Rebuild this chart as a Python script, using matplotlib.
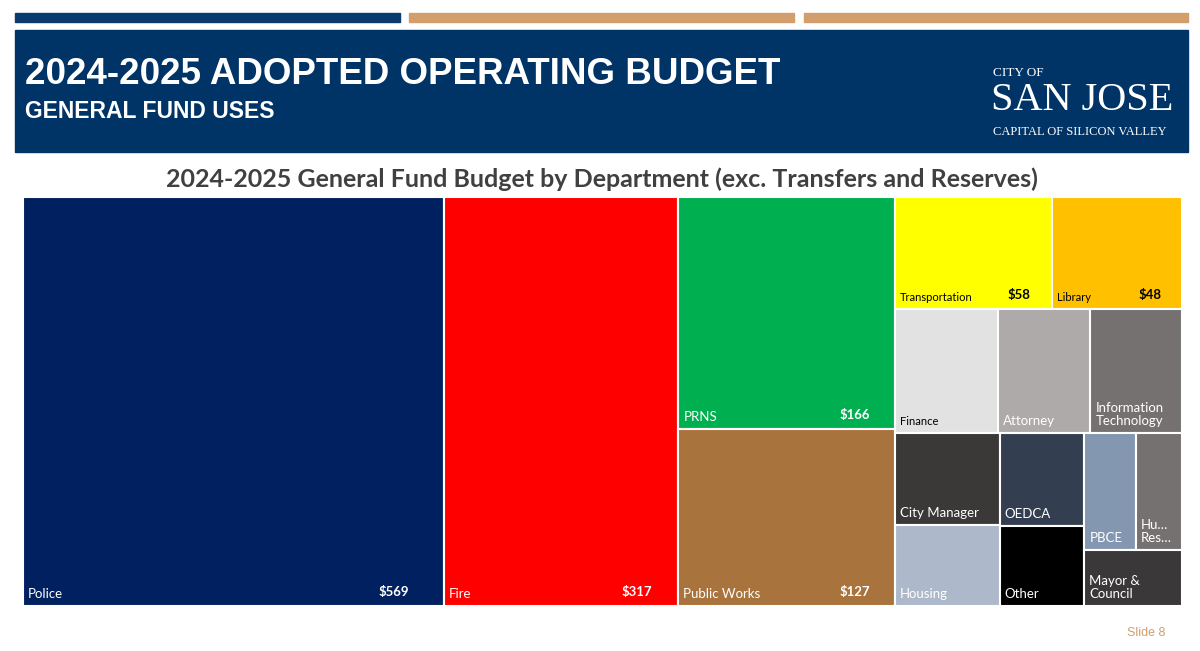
import matplotlib
matplotlib.use("Agg")
import matplotlib.pyplot as plt
from matplotlib.patches import Rectangle

departments = ["Police", "Fire", "PRNS", "Public Works", "Transportation", "Library",
               "Finance", "Attorney", "Information\nTechnology", "City Manager", "Housing",
               "OEDCA", "Other", "PBCE", "Hu…\nRes…", "Mayor &\nCouncil"]
values = [569, 317, 166, 127, 58, 48, 42, 38, 37.5, 32, 28, 26, 22.5, 20, 18, 18]
value_labels = ["$569", "$317", "$166", "$127", "$58", "$48"] + [""] * 10
colors = ["#002060", "#FF0000", "#00B050", "#A9733D", "#FFFF00", "#FFC000",
          "#E2E2E2", "#AEAAAA", "#757171", "#3B3838", "#ADB9CA",
          "#333F50", "#000000", "#8497B0", "#767171", "#3A3838"]
dark_text = {"Transportation", "Library", "Finance"}

W, H = 1159.0, 409.0

def squarify(vals, x, y, w, h):
    total = sum(vals)
    scale = w * h / total
    areas = [v * scale for v in vals]
    rects = []
    def worst(row, side):
        s = sum(row)
        return max(max(side * side * r / (s * s), (s * s) / (side * side * r)) for r in row)
    i = 0
    while i < len(areas):
        side = min(w, h)
        row = [areas[i]]
        j = i + 1
        if len(areas) - i == 3:
            row.append(areas[j]); j += 1
        while j < len(areas) and worst(row + [areas[j]], side) <= worst(row, side):
            row.append(areas[j]); j += 1
        s = sum(row)
        if w >= h:
            cw = s / h; cy = y
            for a in row:
                rh = a / cw; rects.append((x, cy, cw, rh)); cy += rh
            x += cw; w -= cw
        else:
            rh = s / w; cx = x
            for a in row:
                rw = a / rh; rects.append((cx, y, rw, rh)); cx += rw
            y += rh; h -= rh
        i = j
    return rects

fig = plt.figure(figsize=(12, 6.51), dpi=100)
bg = fig.add_axes([0, 0, 1, 1])
bg.set_xlim(0, 1200); bg.set_ylim(651, 0); bg.axis("off")
bg.add_patch(Rectangle((15, 13), 385, 9, color="#0B3A6E"))
bg.add_patch(Rectangle((409, 13), 385, 9, color="#D29E6C"))
bg.add_patch(Rectangle((804, 13), 384, 9, color="#D29E6C"))
bg.add_patch(Rectangle((15, 30), 1173, 122, color="#003366"))
bg.text(25, 75, "2024-2025 ADOPTED OPERATING BUDGET", color="white", fontsize=26.5,
        fontweight="bold", family="Liberation Sans", va="center")
bg.text(25, 111, "GENERAL FUND USES", color="white", fontsize=16.5,
        fontweight="bold", family="Liberation Sans", va="center")
bg.text(993, 73, "CITY OF", color="white", fontsize=9.5, family="Liberation Serif", va="center")
bg.text(991, 100, "SAN JOSE", color="white", fontsize=29, family="Liberation Serif", va="center")
bg.text(993, 132, "CAPITAL OF SILICON VALLEY", color="white", fontsize=9,
        family="Liberation Serif", va="center")
bg.text(602, 179, "2024-2025 General Fund Budget by Department (exc. Transfers and Reserves)",
        color="#404040", fontsize=18, fontweight="bold", family="Lato", ha="center", va="center")
bg.text(1165, 633, "Slide 8", color="#D29E6C", fontsize=9, family="Liberation Sans",
        ha="right", va="center")

ax = fig.add_axes([23 / 1200, 1 - 606 / 651, 1159 / 1200, 409 / 651])
ax.set_xlim(0, W); ax.set_ylim(H, 0); ax.axis("off")
rects = squarify(values, 0, 0, W, H)
for (x, y, w, h), name, val, c in zip(rects, departments, value_labels, colors):
    ax.add_patch(Rectangle((x, y), w, h, facecolor=c, edgecolor="white", linewidth=1.5))
    tc = "black" if name in dark_text else "white"
    fs = 8 if name in ("Transportation", "Library", "Finance") else 9.5
    ax.text(x + 5, y + h - 6, name, color=tc, fontsize=fs, family="Lato",
            ha="left", va="bottom", linespacing=1.1)
    if val:
        ax.text(x + w - 14 - min(w, 420) * 0.05, y + h - 8, val, color=tc, fontsize=9.5,
                fontweight="bold", family="Lato", ha="right", va="bottom")

fig.savefig("out.png", dpi=100)
